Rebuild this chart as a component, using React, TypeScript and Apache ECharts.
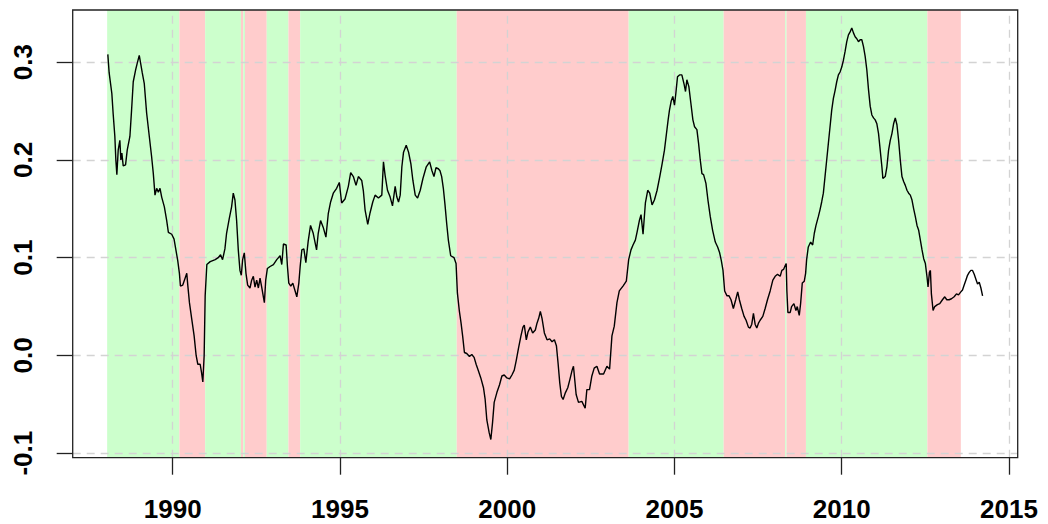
import React, { useEffect, useRef } from "react";
import * as echarts from "echarts";

// Axis ticks
const xTicks = [1990, 1995, 2000, 2005, 2010, 2015];
const yTicks = [-0.1, 0, 0.1, 0.2, 0.3];

// Plot ranges
const xRange = [1987.01, 2015.26];
const yRange = [-0.1046, 0.3534];

// Regime bands: start/end in decimal years, "up" = green, "down" = red
const regimeStart = [1988.04, 1990.2, 1990.97, 1992.04, 1992.11, 1992.16, 1992.81, 1993.46, 1993.81, 1998.49, 2003.63, 2006.47, 2008.31, 2008.35, 2008.93, 2012.56];
const regimeEnd = [1990.2, 1990.97, 1992.04, 1992.11, 1992.16, 1992.81, 1993.46, 1993.81, 1998.49, 2003.63, 2006.47, 2008.31, 2008.35, 2008.93, 2012.56, 2013.56];
const regimeState = ["up", "down", "up", "down", "up", "down", "up", "down", "up", "down", "up", "down", "up", "down", "up", "down"];

// Rolling coefficient, time in decimal years
const dates = [
  1988.06, 1988.10, 1988.18, 1988.22, 1988.27, 1988.30, 1988.33, 1988.37, 1988.42, 1988.45,
  1988.48, 1988.52, 1988.59, 1988.64, 1988.72, 1988.77, 1988.82, 1988.89, 1988.94, 1989.00,
  1989.04, 1989.09, 1989.15, 1989.22, 1989.30, 1989.37, 1989.42, 1989.47, 1989.52, 1989.57,
  1989.62, 1989.67, 1989.75, 1989.82, 1989.87, 1989.97, 1990.04, 1990.10, 1990.15, 1990.20,
  1990.23, 1990.30, 1990.37, 1990.42, 1990.45, 1990.50, 1990.57, 1990.64, 1990.70, 1990.75,
  1990.82, 1990.86, 1990.90, 1990.94, 1990.97, 1991.02, 1991.12, 1991.27, 1991.36, 1991.43,
  1991.49, 1991.56, 1991.61, 1991.69, 1991.76, 1991.81, 1991.86, 1991.91, 1991.96, 1992.01,
  1992.05, 1992.09, 1992.14, 1992.19, 1992.24, 1992.31, 1992.36, 1992.41, 1992.46, 1992.51,
  1992.56, 1992.61, 1992.66, 1992.71, 1992.74, 1992.78, 1992.83, 1992.91, 1993.01, 1993.11,
  1993.21, 1993.26, 1993.31, 1993.39, 1993.43, 1993.47, 1993.53, 1993.59, 1993.65, 1993.71,
  1993.77, 1993.81, 1993.86, 1993.92, 1993.98, 1994.05, 1994.12, 1994.20, 1994.30, 1994.35,
  1994.42, 1994.50, 1994.58, 1994.65, 1994.72, 1994.80, 1994.90, 1994.98, 1995.05, 1995.15,
  1995.25, 1995.32, 1995.40, 1995.48, 1995.55, 1995.65, 1995.70, 1995.75, 1995.83, 1995.90,
  1995.98, 1996.05, 1996.15, 1996.25, 1996.30, 1996.35, 1996.42, 1996.50, 1996.57, 1996.65,
  1996.70, 1996.75, 1996.80, 1996.85, 1996.90, 1996.98, 1997.05, 1997.12, 1997.18, 1997.25,
  1997.32, 1997.40, 1997.48, 1997.58, 1997.68, 1997.75, 1997.81, 1997.87, 1997.94, 1997.99,
  1998.04, 1998.09, 1998.14, 1998.19, 1998.24, 1998.31, 1998.41, 1998.47, 1998.51, 1998.57,
  1998.62, 1998.67, 1998.72, 1998.79, 1998.87, 1998.94, 1999.01, 1999.07, 1999.14, 1999.21,
  1999.29, 1999.34, 1999.39, 1999.46, 1999.51, 1999.56, 1999.61, 1999.69, 1999.77, 1999.84,
  1999.91, 1999.99, 2000.07, 2000.14, 2000.21, 2000.27, 2000.34, 2000.41, 2000.47, 2000.51,
  2000.57, 2000.62, 2000.69, 2000.76, 2000.84, 2000.89, 2000.94, 2000.99, 2001.04, 2001.11,
  2001.19, 2001.27, 2001.34, 2001.41, 2001.47, 2001.52, 2001.57, 2001.62, 2001.67, 2001.74,
  2001.81, 2001.87, 2001.94, 2001.98, 2002.06, 2002.13, 2002.23, 2002.33, 2002.38, 2002.46,
  2002.53, 2002.60, 2002.68, 2002.76, 2002.88, 2002.98, 2003.06, 2003.13, 2003.20, 2003.28,
  2003.35, 2003.46, 2003.56, 2003.63, 2003.70, 2003.76, 2003.83, 2003.88, 2003.95, 2004.00,
  2004.06, 2004.13, 2004.20, 2004.26, 2004.33, 2004.40, 2004.48, 2004.56, 2004.63, 2004.70,
  2004.76, 2004.81, 2004.85, 2004.90, 2004.95, 2005.00, 2005.04, 2005.09, 2005.15, 2005.22,
  2005.29, 2005.33, 2005.37, 2005.43, 2005.49, 2005.55, 2005.60, 2005.67, 2005.72, 2005.77,
  2005.82, 2005.87, 2005.94, 2006.00, 2006.07, 2006.14, 2006.22, 2006.29, 2006.35, 2006.40,
  2006.45, 2006.50, 2006.57, 2006.63, 2006.69, 2006.76, 2006.83, 2006.89, 2006.94, 2007.01,
  2007.08, 2007.14, 2007.21, 2007.26, 2007.31, 2007.36, 2007.41, 2007.46, 2007.51, 2007.56,
  2007.64, 2007.71, 2007.78, 2007.86, 2007.94, 2008.01, 2008.08, 2008.16, 2008.21, 2008.26,
  2008.31, 2008.34, 2008.36, 2008.39, 2008.46, 2008.50, 2008.57, 2008.63, 2008.67, 2008.73,
  2008.77, 2008.82, 2008.88, 2008.92, 2008.95, 2009.00, 2009.07, 2009.13, 2009.18, 2009.23,
  2009.30, 2009.35, 2009.40, 2009.45, 2009.50, 2009.55, 2009.60, 2009.65, 2009.70, 2009.75,
  2009.80, 2009.85, 2009.90, 2009.95, 2010.00, 2010.05, 2010.10, 2010.15, 2010.20, 2010.25,
  2010.30, 2010.35, 2010.40, 2010.45, 2010.50, 2010.55, 2010.60, 2010.65, 2010.70, 2010.75,
  2010.80, 2010.85, 2010.90, 2010.95, 2011.00, 2011.05, 2011.10, 2011.15, 2011.20, 2011.23,
  2011.30, 2011.35, 2011.40, 2011.45, 2011.50, 2011.55, 2011.60, 2011.65, 2011.70, 2011.75,
  2011.80, 2011.85, 2011.90, 2011.95, 2012.00, 2012.05, 2012.10, 2012.15, 2012.20, 2012.25,
  2012.30, 2012.35, 2012.40, 2012.45, 2012.50, 2012.55, 2012.58, 2012.62, 2012.65, 2012.68,
  2012.73, 2012.78, 2012.86, 2012.93, 2013.01, 2013.08, 2013.14, 2013.21, 2013.28, 2013.36,
  2013.43, 2013.49, 2013.56, 2013.61, 2013.66, 2013.71, 2013.76, 2013.81, 2013.86, 2013.91,
  2013.96, 2014.01, 2014.06, 2014.11, 2014.16, 2014.21,
];

const coef = [
  0.308, 0.289, 0.268, 0.247, 0.224, 0.200, 0.185, 0.210, 0.220, 0.200,
  0.207, 0.194, 0.195, 0.210, 0.224, 0.251, 0.280, 0.292, 0.299, 0.307,
  0.299, 0.289, 0.278, 0.248, 0.224, 0.203, 0.186, 0.164, 0.171, 0.167,
  0.171, 0.162, 0.152, 0.138, 0.126, 0.124, 0.119, 0.107, 0.097, 0.084,
  0.071, 0.072, 0.079, 0.084, 0.072, 0.054, 0.037, 0.020, 0.000, -0.009,
  -0.009, -0.017, -0.027, 0.000, 0.061, 0.093, 0.096, 0.098, 0.100, 0.103,
  0.098, 0.109, 0.125, 0.140, 0.152, 0.166, 0.159, 0.138, 0.108, 0.087,
  0.082, 0.098, 0.105, 0.084, 0.072, 0.069, 0.077, 0.081, 0.070, 0.077,
  0.069, 0.079, 0.070, 0.060, 0.054, 0.077, 0.089, 0.091, 0.093, 0.098,
  0.102, 0.093, 0.114, 0.113, 0.091, 0.074, 0.071, 0.074, 0.067, 0.060,
  0.074, 0.091, 0.108, 0.109, 0.095, 0.117, 0.133, 0.125, 0.108, 0.125,
  0.138, 0.131, 0.121, 0.145, 0.157, 0.166, 0.171, 0.177, 0.156, 0.160,
  0.173, 0.187, 0.183, 0.174, 0.183, 0.179, 0.168, 0.149, 0.134, 0.146,
  0.157, 0.164, 0.161, 0.164, 0.198, 0.184, 0.169, 0.162, 0.153, 0.173,
  0.162, 0.157, 0.164, 0.193, 0.208, 0.215, 0.208, 0.196, 0.179, 0.164,
  0.161, 0.169, 0.181, 0.193, 0.198, 0.189, 0.183, 0.192, 0.191, 0.189,
  0.183, 0.171, 0.154, 0.135, 0.118, 0.102, 0.100, 0.094, 0.064, 0.045,
  0.033, 0.019, 0.003, 0.002, -0.001, 0.001, -0.002, -0.009, -0.016, -0.023,
  -0.033, -0.045, -0.066, -0.079, -0.086, -0.069, -0.048, -0.038, -0.030, -0.021,
  -0.020, -0.023, -0.024, -0.020, -0.015, -0.005, 0.008, 0.020, 0.029, 0.031,
  0.016, 0.024, 0.029, 0.023, 0.026, 0.033, 0.038, 0.045, 0.038, 0.023,
  0.016, 0.017, 0.014, 0.016, 0.010, -0.008, -0.028, -0.042, -0.045, -0.038,
  -0.033, -0.025, -0.015, -0.011, -0.040, -0.048, -0.047, -0.054, -0.035, -0.035,
  -0.021, -0.013, -0.011, -0.019, -0.019, -0.011, -0.014, 0.020, 0.030, 0.054,
  0.066, 0.071, 0.076, 0.098, 0.108, 0.113, 0.118, 0.126, 0.138, 0.144,
  0.124, 0.156, 0.169, 0.166, 0.154, 0.159, 0.169, 0.183, 0.196, 0.210,
  0.227, 0.241, 0.251, 0.260, 0.265, 0.256, 0.268, 0.285, 0.287, 0.287,
  0.277, 0.270, 0.282, 0.275, 0.258, 0.241, 0.234, 0.231, 0.217, 0.200,
  0.186, 0.185, 0.176, 0.159, 0.142, 0.128, 0.116, 0.111, 0.105, 0.097,
  0.087, 0.066, 0.061, 0.061, 0.057, 0.048, 0.057, 0.065, 0.057, 0.048,
  0.040, 0.036, 0.029, 0.028, 0.032, 0.043, 0.032, 0.028, 0.033, 0.036,
  0.040, 0.048, 0.057, 0.066, 0.077, 0.081, 0.083, 0.081, 0.087, 0.088,
  0.092, 0.094, 0.066, 0.044, 0.044, 0.050, 0.053, 0.046, 0.050, 0.041,
  0.053, 0.074, 0.076, 0.084, 0.098, 0.111, 0.116, 0.113, 0.125, 0.133,
  0.142, 0.149, 0.157, 0.166, 0.183, 0.200, 0.217, 0.234, 0.251, 0.263,
  0.271, 0.280, 0.287, 0.290, 0.295, 0.302, 0.311, 0.321, 0.328, 0.331,
  0.335, 0.330, 0.326, 0.324, 0.321, 0.323, 0.323, 0.316, 0.306, 0.292,
  0.272, 0.255, 0.246, 0.243, 0.241, 0.237, 0.227, 0.210, 0.193, 0.181,
  0.183, 0.193, 0.210, 0.220, 0.227, 0.237, 0.243, 0.236, 0.220, 0.200,
  0.183, 0.178, 0.174, 0.169, 0.166, 0.164, 0.159, 0.150, 0.142, 0.133,
  0.128, 0.118, 0.108, 0.099, 0.094, 0.080, 0.070, 0.085, 0.087, 0.063,
  0.046, 0.050, 0.052, 0.053, 0.057, 0.060, 0.057, 0.057, 0.058, 0.060,
  0.063, 0.062, 0.065, 0.067, 0.072, 0.077, 0.082, 0.085, 0.087, 0.087,
  0.083, 0.078, 0.073, 0.075, 0.069, 0.061,
];

const GREEN = "#CCFFCC";
const PINK = "#FFCCCC";
const FONT = "'Liberation Sans', Arial, sans-serif";

export default function App() {
  const ref = useRef<HTMLDivElement>(null);

  useEffect(() => {
    if (!ref.current) return;
    const chart = echarts.init(ref.current, null, { renderer: "svg" });

    const points = dates.map((d, i) => [d, coef[i]]);
    const bands = regimeStart.map((s, i) => [
      {
        coord: [s, yRange[0]],
        itemStyle: { color: regimeState[i] === "up" ? GREEN : PINK, opacity: 1, borderWidth: 0 },
      },
      { coord: [regimeEnd[i], yRange[1]] },
    ]);
    // Dashed reference grid at every tick, as explicit segments
    const gridLines = [
      ...xTicks.map((x) => [{ coord: [x, yRange[0]] }, { coord: [x, yRange[1]] }]),
      ...yTicks.map((y) => [{ coord: [xRange[0], y] }, { coord: [xRange[1], y] }]),
    ];

    const left = 72.7;
    const top = 10;
    const right = 1048 - 1017.7;
    const bottom = 524 - 457.7;

    chart.setOption({
      animation: false,
      backgroundColor: "#ffffff",
      grid: { left, right, top, bottom, show: false },
      xAxis: {
        type: "value",
        min: xRange[0],
        max: xRange[1],
        position: "bottom",
        axisLine: { show: false, onZero: false },
        axisTick: {
          show: true,
          customValues: xTicks,
          length: 17,
          lineStyle: { color: "#222", width: 1.3 },
        },
        axisLabel: {
          customValues: xTicks,
          margin: 38,
          fontSize: 26,
          fontWeight: "bold",
          fontFamily: FONT,
          color: "#000",
          formatter: (v: number) => String(Math.round(v)),
        },
        splitLine: { show: false },
      },
      yAxis: {
        type: "value",
        min: yRange[0],
        max: yRange[1],
        position: "left",
        axisLine: { show: false, onZero: false },
        axisTick: {
          show: true,
          customValues: yTicks,
          length: 16,
          lineStyle: { color: "#222", width: 1.3 },
        },
        axisLabel: {
          customValues: yTicks,
          rotate: 90,
          margin: 37,
          fontSize: 26,
          fontWeight: "bold",
          fontFamily: FONT,
          color: "#000",
          formatter: (v: number) => v.toFixed(1),
        },
        splitLine: { show: false },
      },
      series: [
        {
          type: "line",
          data: [],
          silent: true,
          z: 1,
          markArea: { silent: true, z: 1, data: bands },
        },
        {
          type: "line",
          data: [],
          silent: true,
          z: 2,
          markLine: {
            silent: true,
            z: 2,
            symbol: ["none", "none"],
            symbolSize: 0,
            label: { show: false },
            emphasis: { disabled: true },
            lineStyle: { color: "#D3D3D3", type: [8, 6], width: 1.3, opacity: 1 },
            data: gridLines,
          },
        },
        {
          type: "line",
          data: points,
          showSymbol: false,
          symbol: "none",
          z: 5,
          lineStyle: { color: "#000", width: 1.4 },
        },
      ],
      graphic: [
        {
          type: "rect",
          z: 100,
          silent: true,
          shape: { x: left, y: top, width: 1048 - left - right, height: 524 - top - bottom },
          style: { fill: "none", stroke: "#222", lineWidth: 1.3 },
        },
      ],
    });

    return () => chart.dispose();
  }, []);

  return (
    <div
      ref={ref}
      style={{ position: "absolute", left: 0, top: 0, width: 1048, height: 524 }}
    />
  );
}
